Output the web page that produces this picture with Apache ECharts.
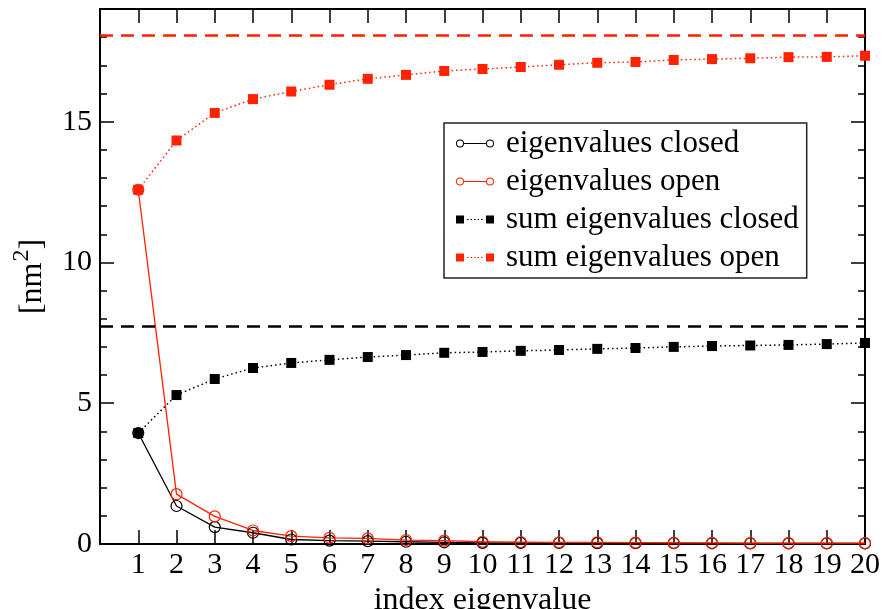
<!DOCTYPE html>
<html>
<head>
<meta charset="utf-8">
<script src="https://cdn.jsdelivr.net/npm/echarts@6/dist/echarts.min.js"></script>
<style>
  html, body { margin: 0; padding: 0; background: #fff; }
  #chart { width: 883px; height: 609px; }
</style>
</head>
<body>
<div id="chart"></div>
<script>
// Eigenvalue index (1..20)
var indices = [1, 2, 3, 4, 5, 6, 7, 8, 9, 10, 11, 12, 13, 14, 15, 16, 17, 18, 19, 20];

// Individual eigenvalues [nm^2]
var eigenClosed = [3.94, 1.35, 0.60, 0.40, 0.16, 0.12, 0.10, 0.08, 0.06, 0.04,
                   0.04, 0.035, 0.03, 0.03, 0.03, 0.025, 0.02, 0.02, 0.02, 0.02];
var eigenOpen = [12.58, 1.77, 0.98, 0.48, 0.28, 0.22, 0.20, 0.14, 0.12, 0.08,
                 0.07, 0.06, 0.06, 0.05, 0.04, 0.04, 0.03, 0.03, 0.03, 0.03];

// Cumulative sums of eigenvalues [nm^2]
var sumClosed = [3.94, 5.29, 5.86, 6.25, 6.43, 6.54, 6.64, 6.71, 6.79, 6.82,
                 6.86, 6.89, 6.93, 6.96, 7.00, 7.03, 7.05, 7.07, 7.10, 7.14];
var sumOpen = [12.58, 14.33, 15.31, 15.80, 16.07, 16.31, 16.52, 16.66, 16.80, 16.87,
               16.94, 17.02, 17.09, 17.12, 17.19, 17.22, 17.25, 17.29, 17.30, 17.34];

// Total variance (trace of covariance matrix) [nm^2]
var totalClosed = 7.72;
var totalOpen = 18.07;

// Axis ranges and tick labels
var xRange = [0, 20];
var yRange = [0, 19];
var yTickLabels = [0, 5, 10, 15];

var RED = '#ff2200';
var BLACK = '#000000';
var CLEAR = 'rgba(0,0,0,0)';
var FONT = '"Liberation Serif", "Times New Roman", serif';

function pairs(ys) {
  return indices.map(function (x, i) { return [x, ys[i]]; });
}

// Legend glyphs: symbol - line - symbol, 38 x 8 box
var ringIcon = 'path://' +
  'M0,4 A4,4 0 1,1 8,4 A4,4 0 1,1 0,4 Z M1,4 A3,3 0 1,0 7,4 A3,3 0 1,0 1,4 Z ' +
  'M30,4 A4,4 0 1,1 38,4 A4,4 0 1,1 30,4 Z M31,4 A3,3 0 1,0 37,4 A3,3 0 1,0 31,4 Z ' +
  'M8,3.4 L30,3.4 L30,4.6 L8,4.6 Z';
var squareIcon = 'path://' +
  'M0,0 L8,0 L8,8 L0,8 Z M30,0 L38,0 L38,8 L30,8 Z ' +
  'M11,3.4 L12.5,3.4 L12.5,4.6 L11,4.6 Z M14.5,3.4 L16,3.4 L16,4.6 L14.5,4.6 Z ' +
  'M18,3.4 L19.5,3.4 L19.5,4.6 L18,4.6 Z M21.5,3.4 L23,3.4 L23,4.6 L21.5,4.6 Z ' +
  'M25,3.4 L26.5,3.4 L26.5,4.6 L25,4.6 Z';

function xAxisDef(pos, withLabels) {
  return {
    type: 'value', position: pos, min: xRange[0], max: xRange[1], interval: 1,
    axisLine: { show: false, onZero: false },
    splitLine: { show: false },
    axisTick: { show: true, inside: true, length: 14, lineStyle: { color: BLACK, width: 1.5 } },
    axisLabel: withLabels ? {
      show: true, margin: 6, color: BLACK, fontFamily: FONT, fontSize: 30,
      formatter: function (v) { return v === 0 ? '' : String(v); }
    } : { show: false }
  };
}

function yAxisDef(pos, interval, tickLen, withLabels) {
  return {
    type: 'value', position: pos, min: yRange[0], max: yRange[1], interval: interval,
    axisLine: { show: false, onZero: false },
    splitLine: { show: false },
    axisTick: { show: true, inside: true, length: tickLen, lineStyle: { color: BLACK, width: 1.5 } },
    axisLabel: withLabels ? {
      show: true, margin: 8, color: BLACK, fontFamily: FONT, fontSize: 30,
      formatter: function (v) { return yTickLabels.indexOf(v) >= 0 ? String(v) : ''; }
    } : { show: false }
  };
}

var xBottom = xAxisDef('bottom', true);
xBottom.name = 'index eigenvalue';
xBottom.nameLocation = 'middle';
xBottom.nameGap = 41;
xBottom.nameTextStyle = { color: BLACK, fontFamily: FONT, fontSize: 32 };

var yLeft = yAxisDef('left', 5, 14, true);
yLeft.name = '[nm{sup|2}]';
yLeft.nameLocation = 'middle';
yLeft.nameRotate = 90;
yLeft.nameGap = 44;
yLeft.nameTextStyle = {
  color: BLACK, fontFamily: FONT, fontSize: 32,
  rich: {
    sup: { fontFamily: FONT, fontSize: 24, color: BLACK, padding: [0, 0, 22, 1] }
  }
};

var option = {
  animation: false,
  backgroundColor: '#ffffff',
  grid: {
    left: 100, right: 18, top: 9, bottom: 65,
    outerBoundsMode: 'none',
    containLabel: false,
    show: true, borderColor: BLACK, borderWidth: 2, backgroundColor: 'transparent'
  },
  xAxis: [xBottom, xAxisDef('top', false)],
  yAxis: [
    yLeft,
    yAxisDef('left', 1, 7, false),
    yAxisDef('right', 5, 14, false),
    yAxisDef('right', 1, 7, false)
  ],
  legend: {
    orient: 'vertical',
    left: 444, top: 123,
    padding: [5, 8, 5, 12],
    itemGap: 7,
    itemWidth: 38, itemHeight: 8,
    backgroundColor: '#fff',
    borderColor: '#222', borderWidth: 1.5,
    textStyle: { color: BLACK, fontFamily: FONT, fontSize: 31, lineHeight: 30, padding: [0, 0, 0, 7] },
    data: [
      { name: 'eigenvalues closed', icon: ringIcon, itemStyle: { color: BLACK, borderWidth: 0 } },
      { name: 'eigenvalues open', icon: ringIcon, itemStyle: { color: RED, borderWidth: 0 } },
      { name: 'sum eigenvalues closed', icon: squareIcon, itemStyle: { color: BLACK, borderWidth: 0 } },
      { name: 'sum eigenvalues open', icon: squareIcon, itemStyle: { color: RED, borderWidth: 0 } }
    ]
  },
  series: [
    {
      name: 'sum eigenvalues closed', type: 'line', clip: false,
      data: pairs(sumClosed),
      symbol: 'rect', symbolSize: 10,
      itemStyle: { color: BLACK },
      lineStyle: { color: BLACK, width: 1.5, type: [1.5, 3] },
      markLine: {
        silent: true, symbol: 'none', label: { show: false },
        lineStyle: { color: BLACK, width: 2.5, type: [13, 8] },
        data: [{ yAxis: totalClosed }]
      }
    },
    {
      name: 'sum eigenvalues open', type: 'line', clip: false,
      data: pairs(sumOpen),
      symbol: 'rect', symbolSize: 10,
      itemStyle: { color: RED },
      lineStyle: { color: RED, width: 1.5, type: [1.5, 3] },
      markLine: {
        silent: true, symbol: 'none', label: { show: false },
        lineStyle: { color: RED, width: 2.5, type: [13, 8] },
        data: [{ yAxis: totalOpen }]
      }
    },
    {
      name: 'eigenvalues closed', type: 'line', clip: false,
      data: pairs(eigenClosed),
      symbol: 'circle', symbolSize: 11,
      itemStyle: { color: CLEAR, borderColor: BLACK, borderWidth: 1.2 },
      lineStyle: { color: BLACK, width: 1.3 }
    },
    {
      name: 'eigenvalues open', type: 'line', clip: false,
      data: pairs(eigenOpen),
      symbol: 'circle', symbolSize: 11,
      itemStyle: { color: CLEAR, borderColor: RED, borderWidth: 1.2 },
      lineStyle: { color: RED, width: 1.3 }
    }
  ]
};

var chart = echarts.init(document.getElementById('chart'), null, { renderer: 'canvas' });
chart.setOption(option);
</script>
</body>
</html>
